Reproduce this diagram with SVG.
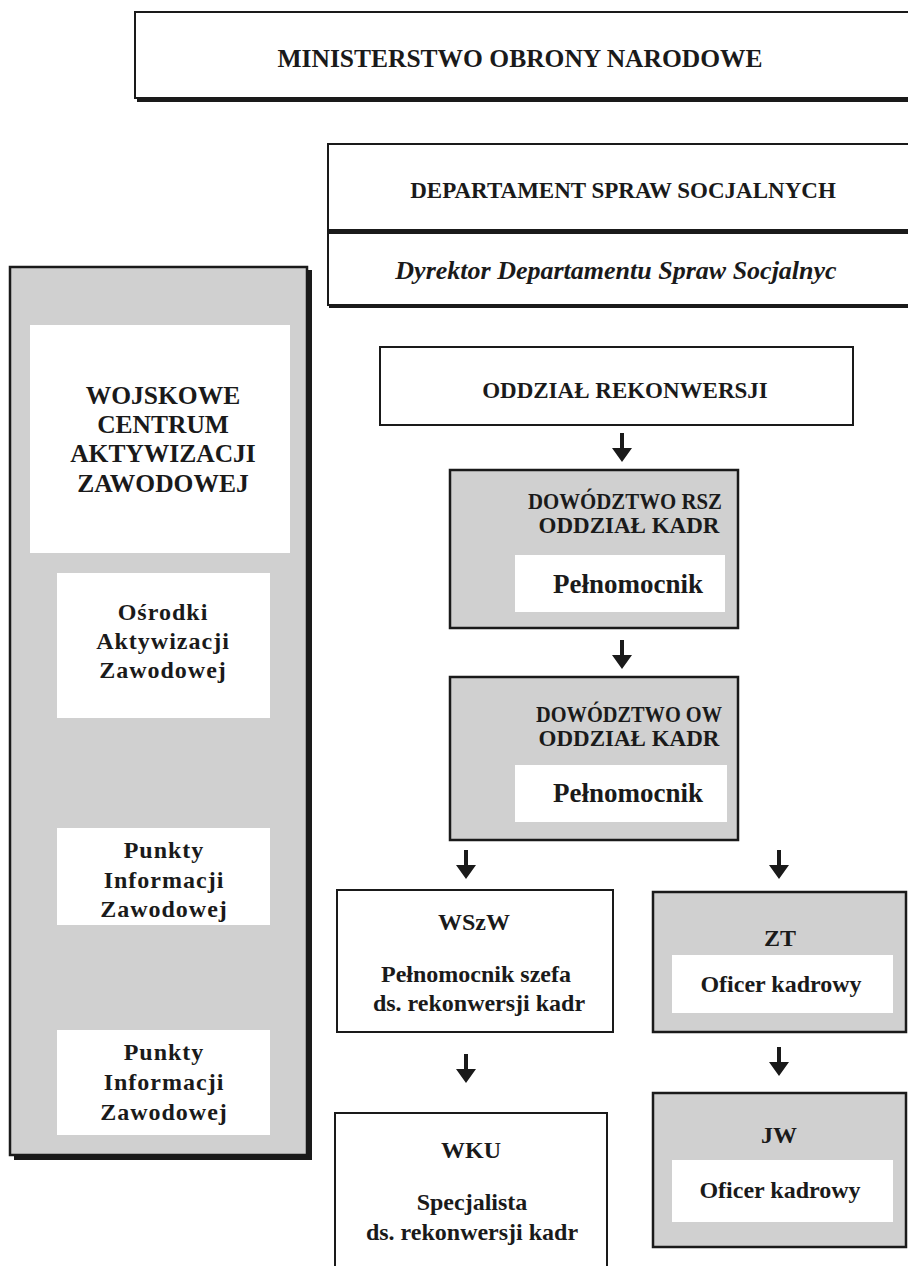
<svg xmlns="http://www.w3.org/2000/svg" width="908" height="1266" viewBox="0 0 908 1266">
<defs>
<style>
text{font-family:"Liberation Serif","Times New Roman",serif;font-weight:bold;fill:#1a1a1a;text-anchor:middle}
.box{fill:#fff;stroke:#1a1a1a;stroke-width:2}
.gbox{fill:#d0d0d0;stroke:#1a1a1a;stroke-width:2.5}
.inner{fill:#fff;stroke:none}
.shadow{fill:#1a1a1a}
.h{font-size:23px}
.b{font-size:24px}
.p{font-size:27px}
.big{font-size:25.5px}
.it{font-style:italic;font-size:26px}
.arr{fill:#1a1a1a}
</style>
<path id="arrow" d="M-2,0 H2 V15 H10 L0,29 L-10,15 H-2 Z"/>
</defs>
<rect width="908" height="1266" fill="#fff"/>

<g id="mon">
<rect class="shadow" x="137" y="16" width="790" height="86"/>
<rect class="box" x="135" y="12" width="790" height="86"/>
<text class="big" x="520" y="67">MINISTERSTWO OBRONY NARODOWE</text>
</g>

<g id="dss">
<rect class="shadow" x="329" y="147" width="600" height="161"/>
<rect class="box" x="328" y="144" width="600" height="161"/>
<rect class="shadow" x="328" y="229" width="600" height="5"/>
<text class="h" x="623" y="198">DEPARTAMENT SPRAW SOCJALNYCH</text>
<text class="it" x="616" y="279">Dyrektor Departamentu Spraw Socjalnyc</text>
</g>

<g id="wcaz">
<rect class="shadow" x="14" y="270" width="298" height="890"/>
<rect class="gbox" x="10" y="267" width="297" height="888"/>
<rect class="inner" x="30" y="325" width="260" height="228"/>
<text class="big" x="163" y="404">WOJSKOWE</text>
<text class="big" x="163" y="433">CENTRUM</text>
<text class="big" x="163" y="462">AKTYWIZACJI</text>
<text class="big" x="163" y="492">ZAWODOWEJ</text>
</g>

<g id="osrodki">
<rect class="inner" x="57" y="573" width="213" height="145"/>
<text class="b" x="163" y="620" letter-spacing="1">Ośrodki</text>
<text class="b" x="163" y="649" letter-spacing="1">Aktywizacji</text>
<text class="b" x="163" y="678" letter-spacing="1">Zawodowej</text>
</g>

<g id="punkty1">
<rect class="inner" x="57" y="828" width="213" height="97"/>
<text class="b" x="164" y="858" letter-spacing="1">Punkty</text>
<text class="b" x="164" y="888" letter-spacing="1">Informacji</text>
<text class="b" x="164" y="917" letter-spacing="1">Zawodowej</text>
</g>

<g id="punkty2">
<rect class="inner" x="57" y="1030" width="213" height="105"/>
<text class="b" x="164" y="1060" letter-spacing="1">Punkty</text>
<text class="b" x="164" y="1090" letter-spacing="1">Informacji</text>
<text class="b" x="164" y="1120" letter-spacing="1">Zawodowej</text>
</g>

<g id="rekonwersja">
<rect class="box" x="380" y="347" width="473" height="78"/>
<text class="h" x="625" y="398">ODDZIAŁ REKONWERSJI</text>
</g>

<g id="rsz">
<rect class="gbox" x="450" y="470" width="288" height="158"/>
<text class="h" x="625" y="509" font-size="21px" textLength="194" lengthAdjust="spacingAndGlyphs">DOWÓDZTWO RSZ</text>
<text class="h" x="629" y="533" font-size="21px">ODDZIAŁ KADR</text>
<rect class="inner" x="515" y="555" width="210" height="57"/>
<text class="p" x="628" y="593">Pełnomocnik</text>
</g>

<g id="ow">
<rect class="gbox" x="450" y="677" width="288" height="163"/>
<text class="h" x="629" y="722" font-size="21px" textLength="186" lengthAdjust="spacingAndGlyphs">DOWÓDZTWO OW</text>
<text class="h" x="629" y="746" font-size="21px">ODDZIAŁ KADR</text>
<rect class="inner" x="515" y="765" width="212" height="57"/>
<text class="p" x="628" y="802">Pełnomocnik</text>
</g>

<g id="wszw">
<rect class="box" x="337" y="890" width="276" height="142"/>
<text class="b" x="474" y="930">WSzW</text>
<text class="b" x="476" y="982">Pełnomocnik szefa</text>
<text class="b" x="479" y="1011">ds. rekonwersji kadr</text>
</g>

<g id="zt">
<rect class="gbox" x="653" y="892" width="253" height="140"/>
<text class="b" x="780" y="946">ZT</text>
<rect class="inner" x="672" y="955" width="221" height="58"/>
<text class="b" x="781" y="992">Oficer kadrowy</text>
</g>

<g id="wku">
<rect class="box" x="335" y="1113" width="272" height="170"/>
<text class="b" x="471" y="1158">WKU</text>
<text class="b" x="472" y="1210">Specjalista</text>
<text class="b" x="472" y="1240">ds. rekonwersji kadr</text>
</g>

<g id="jw">
<rect class="gbox" x="653" y="1093" width="253" height="154"/>
<text class="b" x="779" y="1143">JW</text>
<rect class="inner" x="672" y="1160" width="221" height="62"/>
<text class="b" x="780" y="1198">Oficer kadrowy</text>
</g>

<g id="connectors" class="arr">
<use href="#arrow" x="622" y="433"/>
<use href="#arrow" x="622" y="640"/>
<use href="#arrow" x="466" y="850"/>
<use href="#arrow" x="779" y="850"/>
<use href="#arrow" x="466" y="1054"/>
<use href="#arrow" x="779" y="1047"/>
</g>
</svg>
